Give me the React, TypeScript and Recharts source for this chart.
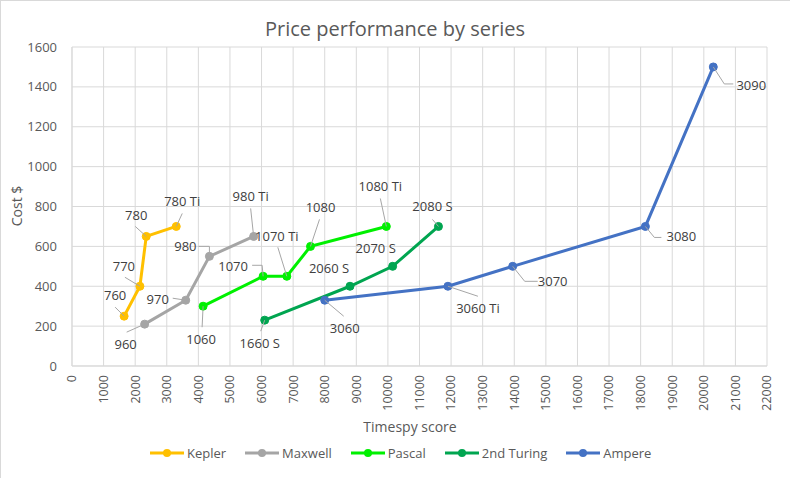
import React from 'react';
import { ScatterChart, Scatter, XAxis, YAxis, CartesianGrid } from 'recharts';

// card names, Timespy scores and launch prices per generation
const keplerCards = ['760', '770', '780', '780 Ti'];
const keplerScore = [1650, 2150, 2350, 3300];
const keplerCost = [250, 400, 650, 700];

const maxwellCards = ['960', '970', '980', '980 Ti'];
const maxwellScore = [2300, 3600, 4350, 5750];
const maxwellCost = [210, 330, 550, 650];

const pascalCards = ['1060', '1070', '1070 Ti', '1080', '1080 Ti'];
const pascalScore = [4150, 6050, 6800, 7550, 9950];
const pascalCost = [300, 450, 450, 600, 700];

const turingCards = ['1660 S', '2060 S', '2070 S', '2080 S'];
const turingScore = [6100, 8800, 10150, 11600];
const turingCost = [230, 400, 500, 700];

const ampereCards = ['3060', '3060 Ti', '3070', '3080', '3090'];
const ampereScore = [8000, 11900, 13950, 18150, 20300];
const ampereCost = [330, 400, 500, 700, 1500];

const xTicks = [0, 1000, 2000, 3000, 4000, 5000, 6000, 7000, 8000, 9000, 10000, 11000,
  12000, 13000, 14000, 15000, 16000, 17000, 18000, 19000, 20000, 21000, 22000];
const yTicks = [0, 200, 400, 600, 800, 1000, 1200, 1400, 1600];

const build = (cards: string[], score: number[], cost: number[]) =>
  cards.map((name, i) => ({ name, score: score[i], cost: cost[i] }));

const series = [
  { name: 'Kepler', color: '#FFC000', data: build(keplerCards, keplerScore, keplerCost) },
  { name: 'Maxwell', color: '#A5A5A5', data: build(maxwellCards, maxwellScore, maxwellCost) },
  { name: 'Pascal', color: '#00F000', data: build(pascalCards, pascalScore, pascalCost) },
  { name: '2nd Turing', color: '#00A550', data: build(turingCards, turingScore, turingCost) },
  { name: 'Ampere', color: '#4472C4', data: build(ampereCards, ampereScore, ampereCost) },
];

// where each data label sits relative to its point, plus the leader line
const labelPlacement: Record<string, { dx: number; dy: number; leader?: number[][] }> = {
  '760': { dx: -9, dy: -21, leader: [[-9, -9], [0, 0]] },
  '770': { dx: -16, dy: -20, leader: [[-15, -9], [0, 0]] },
  '780': { dx: -10, dy: -21, leader: [[-11, -10], [0, 0]] },
  '780 Ti': { dx: 6, dy: -25, leader: [[6, -13], [0, 0]] },
  '960': { dx: -19, dy: 20, leader: [[-18, 8], [0, 0]] },
  '970': { dx: -28, dy: -1, leader: [[-13, -2], [0, 0]] },
  '980': { dx: -24, dy: -10, leader: [[-11, -10], [0, -10], [0, 0]] },
  '980 Ti': { dx: -3, dy: -40, leader: [[-3, -28], [0, 0]] },
  '1060': { dx: -2, dy: 33, leader: [[-1, 21], [0, 0]] },
  '1070': { dx: -30, dy: -10, leader: [[-11, -11], [-1, -11], [0, 0]] },
  '1070 Ti': { dx: -10, dy: -40, leader: [[-9, -29], [0, 0]] },
  '1080': { dx: 10, dy: -39, leader: [[9, -27], [0, 0]] },
  '1080 Ti': { dx: -6, dy: -40, leader: [[-6, -28], [0, 0]] },
  '1660 S': { dx: -5, dy: 23, leader: [[-4, 11], [0, 0]] },
  '2060 S': { dx: -21, dy: -18 },
  '2070 S': { dx: -17, dy: -18 },
  '2080 S': { dx: -6, dy: -20, leader: [[-6, -7], [0, 0]] },
  '3060': { dx: 20, dy: 28, leader: [[19, 16], [0, 0]] },
  '3060 Ti': { dx: 30, dy: 22, leader: [[30, 10], [0, 0]] },
  '3070': { dx: 40, dy: 15, leader: [[0, 0], [12, 15], [25, 15]] },
  '3080': { dx: 36, dy: 10, leader: [[0, 0], [9, 11], [16, 11]] },
  '3090': { dx: 38, dy: 18, leader: [[0, 0], [11, 17], [20, 17]] },
};

const FONT = '"Open Sans", sans-serif';

function PointShape(props: any) {
  const { cx, cy, payload, color } = props;
  const place = labelPlacement[payload?.name];
  return (
    <g>
      <circle cx={cx} cy={cy} r={4} fill={color} stroke={color} />
      {place && place.leader && (
        <polyline
          points={place.leader.map(([x, y]) => `${cx + x},${cy + y}`).join(' ')}
          fill="none"
          stroke="#A6A6A6"
          strokeWidth={1}
        />
      )}
      {place && (
        <text
          x={cx + place.dx}
          y={cy + place.dy}
          textAnchor="middle"
          dominantBaseline="central"
          fontSize={13}
          fontFamily={FONT}
          fill="#404040"
        >
          {payload.name}
        </text>
      )}
    </g>
  );
}

function XTick(props: any) {
  const { x, y, payload } = props;
  return (
    <g transform={`translate(${x},${y + 7})`}>
      <text
        transform="rotate(-90)"
        textAnchor="end"
        dy="0.35em"
        fontSize={12.5}
        fontFamily={FONT}
        fill="#595959"
      >
        {payload.value}
      </text>
    </g>
  );
}

export default function App() {
  return (
    <div
      style={{
        position: 'absolute', left: 0, top: 0, width: 790, height: 478, background: '#fff',
        fontFamily: FONT, borderLeft: '1px solid #D9D9D9', borderTop: '1px solid #D9D9D9',
        boxSizing: 'border-box',
      }}
    >
      <div style={{ position: 'absolute', left: -1, top: 14, width: 790, textAlign: 'center', fontSize: 20, color: '#595959' }}>
        Price performance by series
      </div>
      <div
        style={{
          position: 'absolute', left: 15, top: 205, fontSize: 14, color: '#595959',
          transform: 'translate(-50%, -50%) rotate(-90deg)', whiteSpace: 'nowrap',
        }}
      >
        Cost $
      </div>
      <div style={{ position: 'absolute', left: -1, top: 416, width: 820, textAlign: 'center', fontSize: 14, color: '#595959' }}>
        Timespy score
      </div>

      <div style={{ position: 'absolute', left: -1, top: -1 }}>
        <ScatterChart width={790} height={478} margin={{ top: 47, right: 23, bottom: 52, left: 22 }}>
          <CartesianGrid stroke="#D9D9D9" />
          <XAxis
            type="number"
            dataKey="score"
            domain={[0, 22000]}
            ticks={xTicks}
            interval={0}
            height={60}
            axisLine={{ stroke: '#D9D9D9' }}
            tickLine={false}
            tickSize={0}
            tick={<XTick />}
          />
          <YAxis
            type="number"
            dataKey="cost"
            domain={[0, 1600]}
            ticks={yTicks}
            width={50}
            axisLine={{ stroke: '#D9D9D9' }}
            tickLine={false}
            tickSize={0}
            tickMargin={15}
            tick={{ fontSize: 13, fill: '#595959', fontFamily: FONT }}
          />
          {series.map((s) => (
            <Scatter
              key={s.name}
              name={s.name}
              data={s.data}
              fill={s.color}
              line={{ stroke: s.color, strokeWidth: 3 }}
              lineType="joint"
              shape={(p: any) => <PointShape {...p} color={s.color} />}
              isAnimationActive={false}
            />
          ))}
        </ScatterChart>
      </div>

      <div style={{ position: 'absolute', left: 149, top: 443, display: 'flex', gap: 19, fontSize: 13, color: '#595959' }}>
        {series.map((s) => (
          <div key={s.name} style={{ display: 'flex', alignItems: 'center', gap: 3 }}>
            <svg width={34} height={18}>
              <line x1={0} y1={9} x2={34} y2={9} stroke={s.color} strokeWidth={3} />
              <circle cx={17} cy={9} r={4} fill={s.color} />
            </svg>
            <span>{s.name}</span>
          </div>
        ))}
      </div>
    </div>
  );
}
